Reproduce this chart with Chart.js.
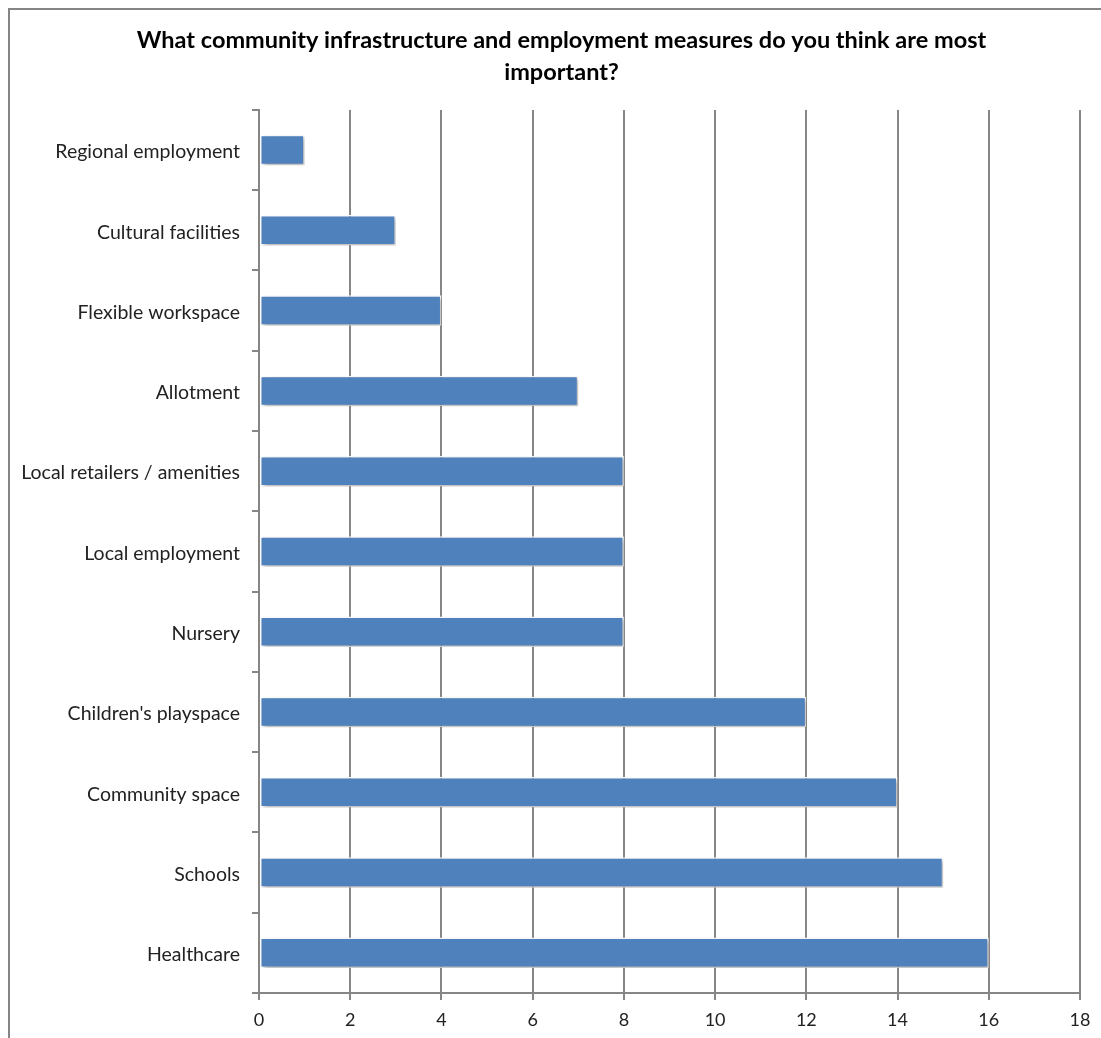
<!DOCTYPE html>
<html>
<head>
<meta charset="utf-8">
<script src="https://cdn.jsdelivr.net/npm/chart.js@4"></script>
<style>
  html, body { margin: 0; padding: 0; background: #fff; }
  #wrap { width: 1101px; height: 1038px; position: relative; }
</style>
</head>
<body>
<div id="wrap"><canvas id="chart"></canvas></div>
<script>
// survey answers, top to bottom
const categories = [
  "Regional employment",
  "Cultural facilities",
  "Flexible workspace",
  "Allotment",
  "Local retailers / amenities",
  "Local employment",
  "Nursery",
  "Children's playspace",
  "Community space",
  "Schools",
  "Healthcare"
];
const responses = [1, 3, 4, 7, 8, 8, 8, 12, 14, 15, 16];
const xTicks = [0, 2, 4, 6, 8, 10, 12, 14, 16, 18];

const FONT = "Lato, 'Open Sans', sans-serif";
const GRID = "#868686";

// outer frame of the chart box (left and top edges)
const framePlugin = {
  id: "frame",
  beforeDraw(chart) {
    const ctx = chart.ctx;
    ctx.save();
    ctx.strokeStyle = "#858585";
    ctx.lineWidth = 2;
    ctx.beginPath();
    ctx.moveTo(9, chart.height);
    ctx.lineTo(9, 9);
    ctx.lineTo(chart.width, 9);
    ctx.stroke();
    ctx.restore();
  }
};

// soft drop shadow under the bars
const shadowPlugin = {
  id: "barShadow",
  beforeDatasetsDraw(chart) {
    const ctx = chart.ctx;
    ctx.save();
    ctx.shadowColor = "rgba(0,0,0,0.3)";
    ctx.shadowBlur = 4;
    ctx.shadowOffsetX = 2;
    ctx.shadowOffsetY = 2;
  },
  afterDatasetsDraw(chart) {
    chart.ctx.restore();
  }
};

new Chart(document.getElementById("chart"), {
  type: "bar",
  data: {
    labels: categories,
    datasets: [{
      data: responses,
      backgroundColor: "#4F81BD",
      borderColor: "#ffffff",
      borderWidth: 1.5,
      borderSkipped: false,
      barPercentage: 0.38,
      categoryPercentage: 1
    }]
  },
  options: {
    indexAxis: "y",
    responsive: true,
    maintainAspectRatio: false,
    animation: false,
    layout: { padding: { top: 0, right: 0, bottom: 0, left: 22 } },
    plugins: {
      legend: { display: false },
      tooltip: { enabled: false },
      title: {
        display: true,
        text: ["What community infrastructure and employment measures do you think are most", "important?"],
        color: "#000",
        font: { family: FONT, size: 23.5, weight: "bold", lineHeight: 1.36 },
        padding: { top: 24, bottom: 22 }
      }
    },
    scales: {
      x: {
        min: 0,
        max: 18,
        afterBuildTicks(scale) {
          scale.ticks = xTicks.map(v => ({ value: v }));
        },
        afterFit(scale) {
          scale.height = 45;
          scale.paddingLeft = 0;
          scale.paddingRight = 21;
        },
        grid: { color: GRID, lineWidth: 2, tickLength: 7, drawTicks: true },
        border: { color: GRID, width: 2 },
        ticks: { color: "#222", font: { family: FONT, size: 18 }, padding: 9 }
      },
      y: {
        afterFit(scale) { scale.width = 237; },
        grid: { drawOnChartArea: false, color: GRID, lineWidth: 2, tickLength: 7 },
        border: { color: GRID, width: 2 },
        ticks: { color: "#222", font: { family: FONT, size: 19.5 }, padding: 12, labelOffset: 2 }
      }
    }
  },
  plugins: [framePlugin, shadowPlugin]
});
</script>
</body>
</html>
